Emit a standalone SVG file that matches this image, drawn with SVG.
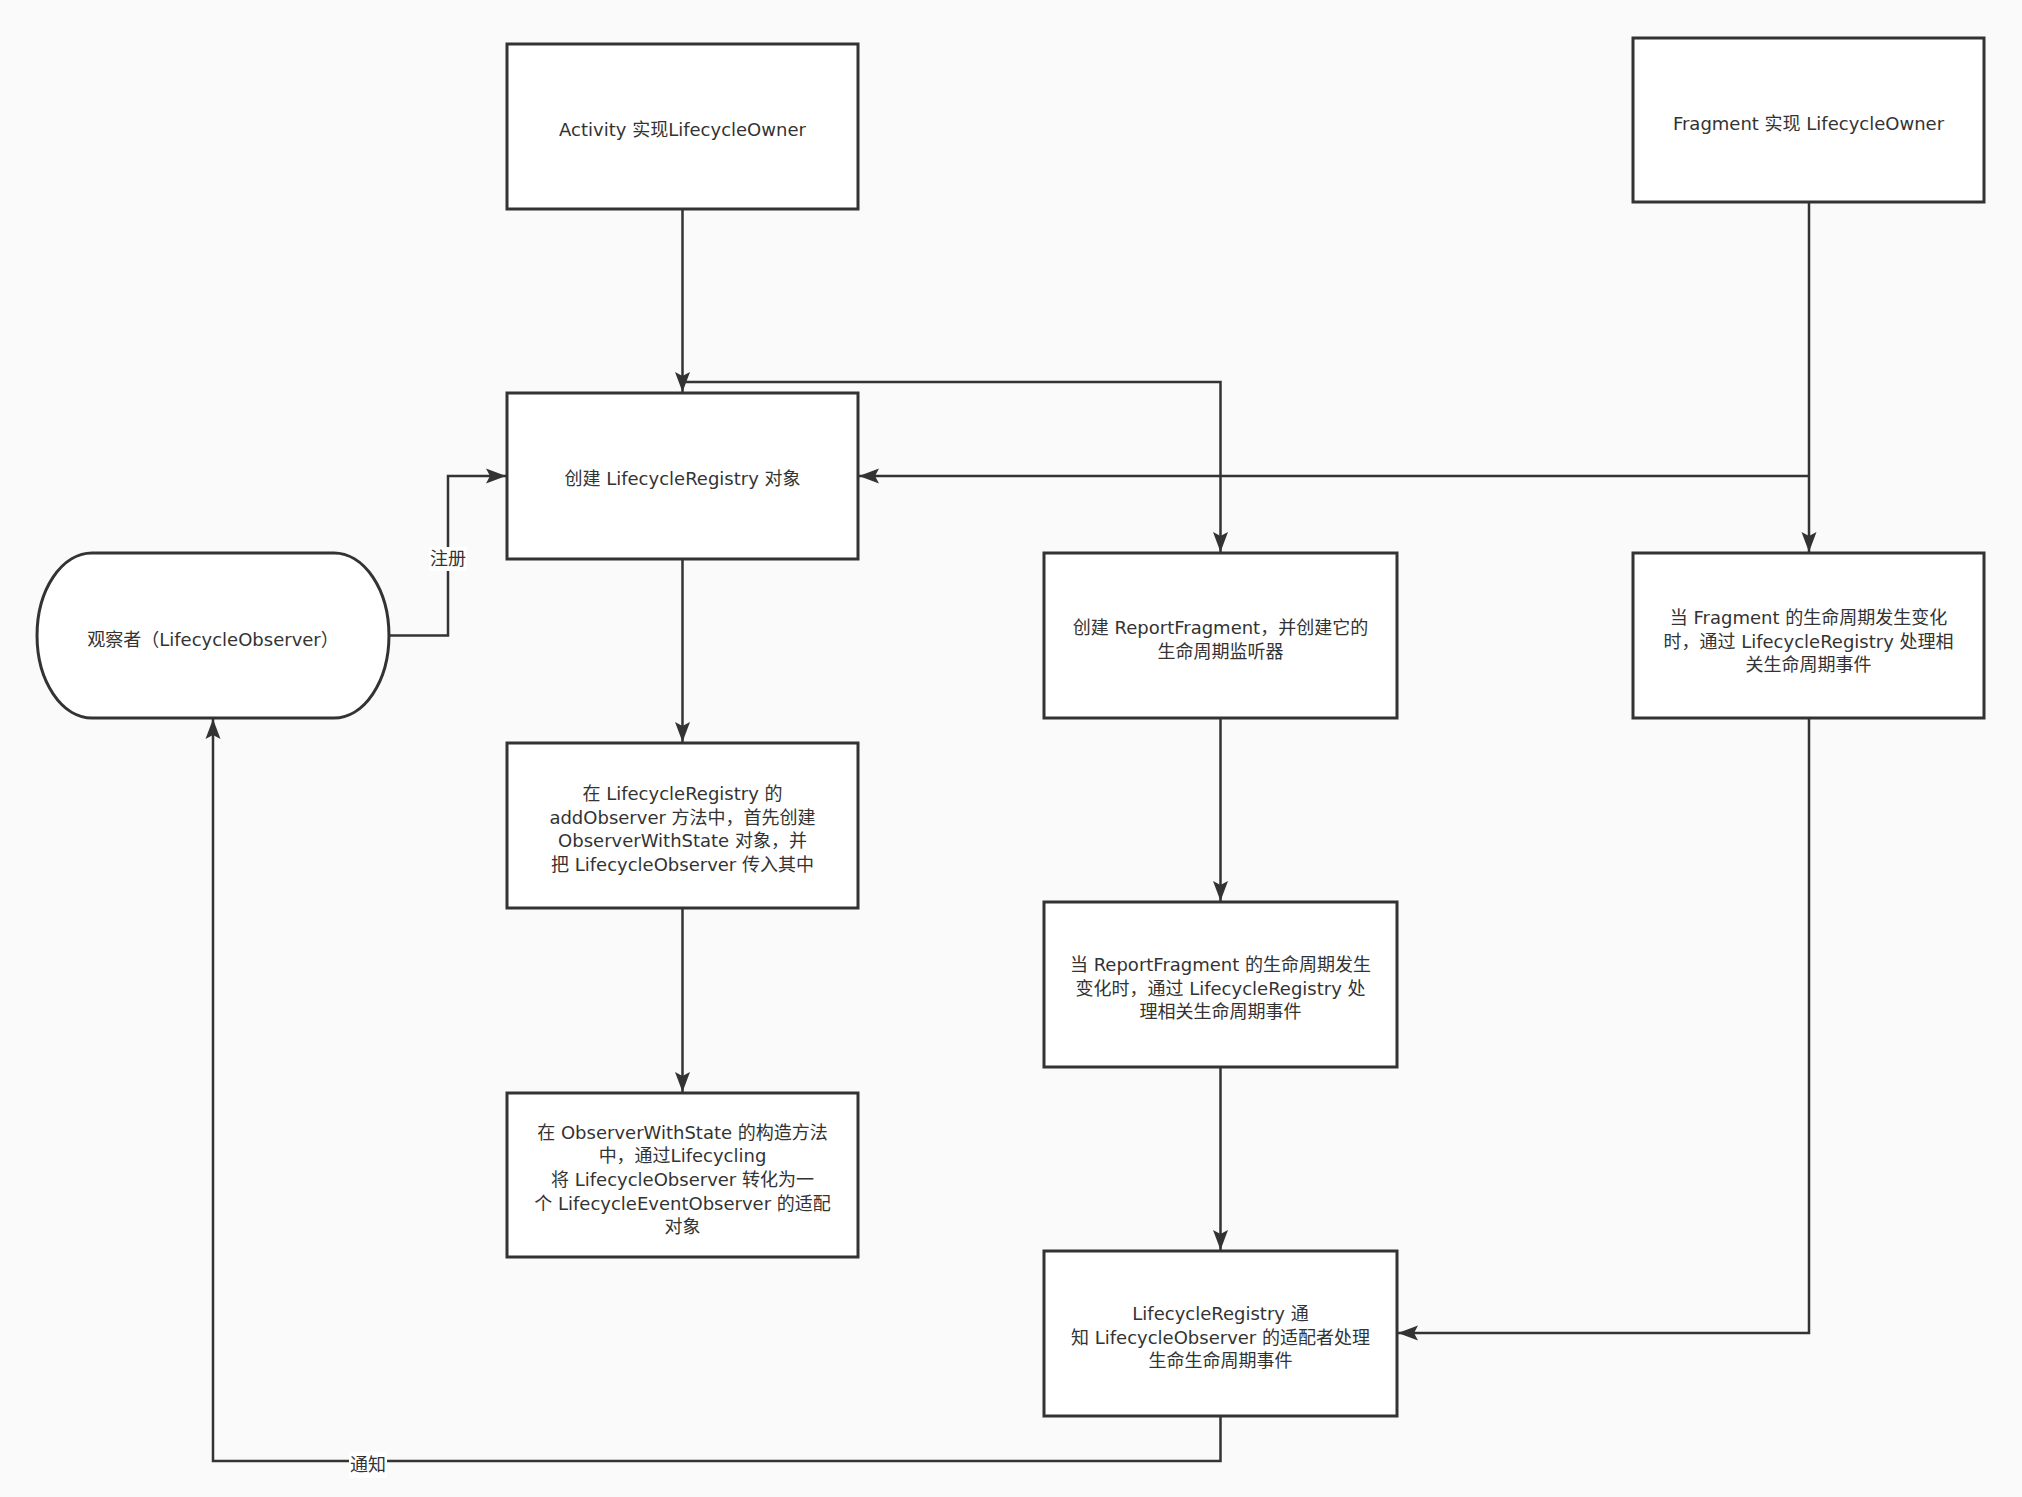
<svg xmlns="http://www.w3.org/2000/svg" width="2022" height="1497" viewBox="0 0 2022 1497">
<style>
.bg{fill:#fafafa}
.box{fill:#ffffff;stroke:#333333;stroke-width:3}
.t{font-family:"DejaVu Sans","Noto Sans CJK SC",sans-serif;font-size:18px;fill:#333333;text-anchor:middle}
.e{fill:none;stroke:#333333;stroke-width:2.5}
.lb{fill:#ffffff}
</style>
<defs>
<marker id="arr" markerUnits="userSpaceOnUse" markerWidth="22" markerHeight="18" viewBox="0 0 22 18" refX="20" refY="9" orient="auto">
<path d="M0,1.5 L20,9 L0,16.5 L4,9 Z" fill="#333333"/>
</marker>
</defs>
<rect class="bg" x="0" y="0" width="2022" height="1497"/>
<g id="connectors">
<path class="e" d="M682.5 209 V392" marker-end="url(#arr)"/>
<path class="e" d="M682.5 382 H1220.5 V552" marker-end="url(#arr)"/>
<path class="e" d="M1809 202 V552" marker-end="url(#arr)"/>
<path class="e" d="M1809 476 H859" marker-end="url(#arr)"/>
<path class="e" d="M682.5 559 V742" marker-end="url(#arr)"/>
<path class="e" d="M682.5 908 V1092" marker-end="url(#arr)"/>
<path class="e" d="M1220.5 718 V901" marker-end="url(#arr)"/>
<path class="e" d="M1220.5 1067 V1250" marker-end="url(#arr)"/>
<path class="e" d="M1809 718 V1333 H1398" marker-end="url(#arr)"/>
<path class="e" d="M389 635.5 H448 V476 H506" marker-end="url(#arr)"/>
<path class="e" d="M1220.5 1416 V1461 H213 V719" marker-end="url(#arr)"/>
<g id="label-register">
<rect class="lb" x="429" y="547" width="38" height="24"/>
<text class="t" x="448" y="565">注册</text>
</g>
<g id="label-notify">
<rect class="lb" x="349" y="1452" width="38" height="26"/>
<text class="t" x="368" y="1471">通知</text>
</g>
</g>
<g id="activity">
<rect class="box" x="507" y="44" width="351" height="165"/>
<text class="t" x="682.5" y="136">Activity 实现LifecycleOwner</text>
</g>
<g id="fragment">
<rect class="box" x="1633" y="38" width="351" height="164"/>
<text class="t" x="1808.5" y="130">Fragment 实现 LifecycleOwner</text>
</g>
<g id="create-registry">
<rect class="box" x="507" y="393" width="351" height="166"/>
<text class="t" x="682.5" y="485">创建 LifecycleRegistry 对象</text>
</g>
<g id="observer">
<path class="box" d="M92 553 H334 A55 82.5 0 0 1 334 718 H92 A55 82.5 0 0 1 92 553 Z"/>
<text class="t" x="213" y="646">观察者（LifecycleObserver）</text>
</g>
<g id="report-fragment">
<rect class="box" x="1044" y="553" width="353" height="165"/>
<text class="t" x="1220.5" y="634">创建 ReportFragment，并创建它的</text>
<text class="t" x="1220.5" y="658">生命周期监听器</text>
</g>
<g id="fragment-change">
<rect class="box" x="1633" y="553" width="351" height="165"/>
<text class="t" x="1808.5" y="624">当 Fragment 的生命周期发生变化</text>
<text class="t" x="1808.5" y="648">时，通过 LifecycleRegistry 处理相</text>
<text class="t" x="1808.5" y="671">关生命周期事件</text>
</g>
<g id="add-observer">
<rect class="box" x="507" y="743" width="351" height="165"/>
<text class="t" x="682.5" y="800">在 LifecycleRegistry 的</text>
<text class="t" x="682.5" y="824">addObserver 方法中，首先创建</text>
<text class="t" x="682.5" y="847">ObserverWithState 对象，并</text>
<text class="t" x="682.5" y="871">把 LifecycleObserver 传入其中</text>
</g>
<g id="report-fragment-change">
<rect class="box" x="1044" y="902" width="353" height="165"/>
<text class="t" x="1220.5" y="971">当 ReportFragment 的生命周期发生</text>
<text class="t" x="1220.5" y="995">变化时，通过 LifecycleRegistry 处</text>
<text class="t" x="1220.5" y="1018">理相关生命周期事件</text>
</g>
<g id="observer-with-state">
<rect class="box" x="507" y="1093" width="351" height="164"/>
<text class="t" x="682.5" y="1139">在 ObserverWithState 的构造方法</text>
<text class="t" x="682.5" y="1162">中，通过Lifecycling</text>
<text class="t" x="682.5" y="1186">将 LifecycleObserver 转化为一</text>
<text class="t" x="682.5" y="1210">个 LifecycleEventObserver 的适配</text>
<text class="t" x="682.5" y="1233">对象</text>
</g>
<g id="registry-notify">
<rect class="box" x="1044" y="1251" width="353" height="165"/>
<text class="t" x="1220.5" y="1320">LifecycleRegistry 通</text>
<text class="t" x="1220.5" y="1344">知 LifecycleObserver 的适配者处理</text>
<text class="t" x="1220.5" y="1367">生命生命周期事件</text>
</g>
</svg>
